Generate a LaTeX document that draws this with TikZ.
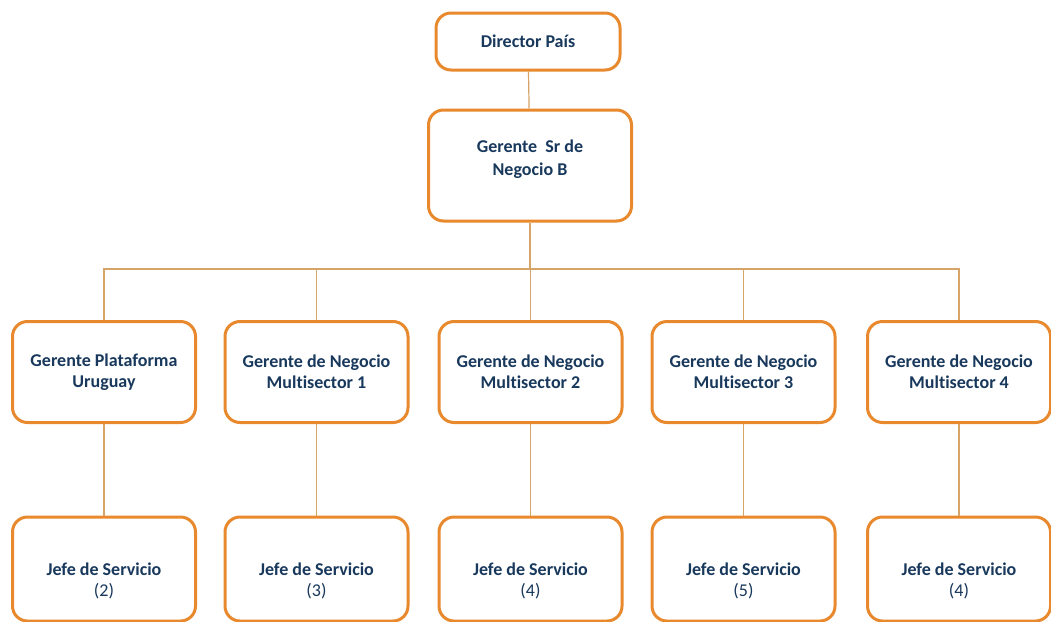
\documentclass[tikz,border=0pt]{standalone}
\usepackage{fontspec}
\setmainfont{Carlito}[Ligatures=NoCommon]
\usetikzlibrary{positioning}
\definecolor{boxorange}{RGB}{232,137,46}
\definecolor{linktan}{RGB}{214,163,104}
\definecolor{txtblue}{RGB}{24,56,92}

\begin{document}
\begin{tikzpicture}[
  x=1pt,y=1pt,
  orgbox/.style={
    draw=boxorange,line width=3pt,rounded corners=15pt,fill=white,
    text=txtblue,font=\fontsize{18}{21}\selectfont\bfseries,
    align=center,inner sep=0pt,
    minimum width=183pt,minimum height=101pt
  },
  topbox/.style={orgbox,minimum width=184pt,minimum height=57pt},
  srbox/.style={orgbox,minimum width=203pt,minimum height=111pt,text depth=16pt},
  jefebox/.style={orgbox,minimum height=104pt,text height=58pt},
  link/.style={draw=linktan,line width=1.2pt}
]
\path[use as bounding box,fill=white] (0,0) rectangle (1051,-621);

% ---- top of the chart ----
\node[topbox] (dir) at (528,-41.5) {Director País};
\node[srbox] (gsr) at (530,-165.5) {Gerente\ \ Sr de\\[2pt]Negocio B};
\coordinate (bus) at (0,-269);

% ---- gerentes, one per column ----
\node[orgbox] (m1) at (104,-372)   {Gerente Plataforma\\Uruguay};
\node[orgbox] (m2) at (316.5,-372) {Gerente de Negocio\\Multisector 1};
\node[orgbox] (m3) at (530.5,-372) {Gerente de Negocio\\Multisector 2};
\node[orgbox] (m4) at (743.5,-372) {Gerente de Negocio\\Multisector 3};
\node[orgbox] (m5) at (959,-372)   {Gerente de Negocio\\Multisector 4};

% ---- jefes de servicio, under each gerente ----
\node[jefebox] (j1) at (m1 |- 0,-569) {Jefe de Servicio\\{\mdseries (2)}};
\node[jefebox] (j2) at (m2 |- 0,-569) {Jefe de Servicio\\{\mdseries (3)}};
\node[jefebox] (j3) at (m3 |- 0,-569) {Jefe de Servicio\\{\mdseries (4)}};
\node[jefebox] (j4) at (m4 |- 0,-569) {Jefe de Servicio\\{\mdseries (5)}};
\node[jefebox] (j5) at (m5 |- 0,-569) {Jefe de Servicio\\{\mdseries (4)}};

% ---- connectors ----
\draw[link] (dir) -- (gsr);
\draw[link] (gsr) -- (gsr |- bus);
\draw[link] (m1.north) -- (m1 |- bus) -- (m5 |- bus) -- (m5.north);
\draw[link] (m2.north) -- (m2 |- bus);
\draw[link] (m3.north) -- (m3 |- bus);
\draw[link] (m4.north) -- (m4 |- bus);

\draw[link] (m1) -- (j1);
\draw[link] (m2) -- (j2);
\draw[link] (m3) -- (j3);
\draw[link] (m4) -- (j4);
\draw[link] (m5) -- (j5);

\end{tikzpicture}
\end{document}
